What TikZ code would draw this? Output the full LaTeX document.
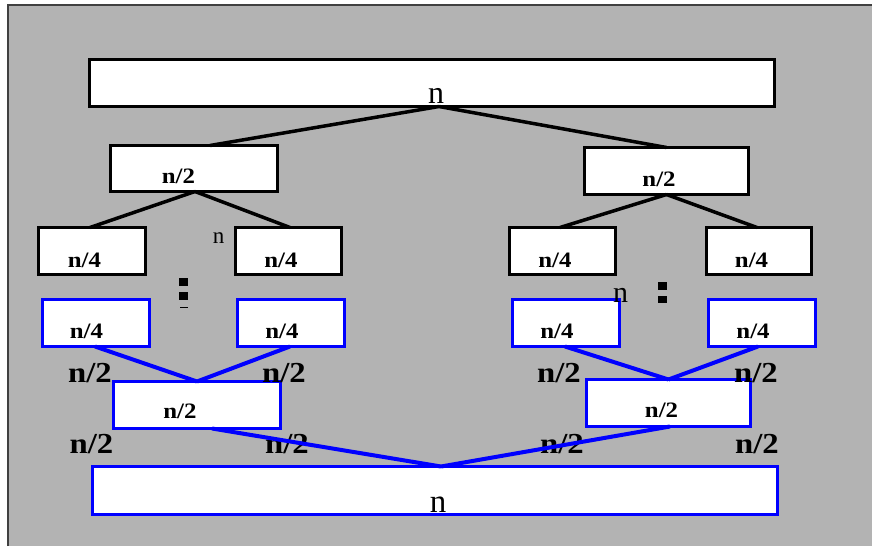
\documentclass[tikz,border=0pt]{standalone}
\usepackage{fontspec}
\setmainfont{Liberation Serif}
\newfontfamily\wideserif[FakeStretch=1.13]{Liberation Serif}
\definecolor{bggray}{HTML}{B3B3B3}
\definecolor{framegray}{HTML}{404040}
\newcommand\boxfont{\wideserif\bfseries\fontsize{22}{26}\selectfont}
\newcommand\labfont{\wideserif\bfseries\fontsize{29}{33}\selectfont}
\begin{document}
\begin{tikzpicture}[x=1pt,y=-1pt,
  kbox/.style={draw=black,line width=3pt,fill=white,inner sep=0pt,outer sep=0pt},
  bbox/.style={draw=blue,line width=3pt,fill=white,inner sep=0pt,outer sep=0pt},
  kline/.style={draw=black,line width=3.5pt},
  bline/.style={draw=blue,line width=4pt},
  btext/.style={anchor=base,inner sep=0pt,font=\boxfont},
  ltext/.style={anchor=base,inner sep=0pt,font=\labfont},
  ntext/.style={anchor=base,inner sep=0pt}]
\useasboundingbox (0,0) rectangle (872,546);
\fill[bggray] (8,5) rectangle (872,546);
\draw[framegray,line width=1.5pt] (8,546) -- (8,5) -- (872,5);

% boxes
\node[kbox,minimum width=685pt,minimum height=47pt] (top) at (432,83) {};
\node[kbox,minimum width=167pt,minimum height=46pt] (n2L) at (194,168.5) {};
\node[kbox,minimum width=164pt,minimum height=47pt] (n2R) at (666.5,171) {};
\node[kbox,minimum width=107pt,minimum height=47pt] (n4a) at (92,251) {};
\node[kbox,minimum width=106pt,minimum height=47pt] (n4b) at (288.5,251) {};
\node[kbox,minimum width=106pt,minimum height=47pt] (n4c) at (562.5,251) {};
\node[kbox,minimum width=105pt,minimum height=47pt] (n4d) at (759,251) {};
\node[bbox,minimum width=107pt,minimum height=47pt] (b4a) at (96,323) {};
\node[bbox,minimum width=107pt,minimum height=47pt] (b4b) at (291,323) {};
\node[bbox,minimum width=107pt,minimum height=47pt] (b4c) at (566,323) {};
\node[bbox,minimum width=107pt,minimum height=47pt] (b4d) at (762,323) {};
\node[bbox,minimum width=167pt,minimum height=47pt] (b2L) at (197,405) {};
\node[bbox,minimum width=164pt,minimum height=47pt] (b2R) at (668.5,403) {};
\node[bbox,minimum width=685pt,minimum height=48pt] (bot) at (435,490.5) {};

% outside labels
\node[ltext] (la1) at (90,382) {n/2};
\node[ltext] (la2) at (284,382) {n/2};
\node[ltext] (la3) at (559,382) {n/2};
\node[ltext] (la4) at (756,382) {n/2};
\node[ltext] (lb1) at (91.5,453) {n/2};
\node[ltext] (lb2) at (287,453) {n/2};
\node[ltext] (lb3) at (562,453) {n/2};
\node[ltext] (lb4) at (757,453) {n/2};

% black connectors
\draw[kline] ([xshift=7pt]top.south) -- ([xshift=16pt]n2L.north);
\draw[kline] ([xshift=7pt]top.south) -- (n2R.north);
\draw[kline] ([xshift=1pt]n2L.south) -- ([xshift=-2pt]n4a.north);
\draw[kline] ([xshift=1pt]n2L.south) -- ([xshift=1.5pt]n4b.north);
\draw[kline] (n2R.south) -- ([xshift=-2.5pt]n4c.north);
\draw[kline] (n2R.south) -- ([xshift=-2pt]n4d.north);
% blue connectors
\draw[bline] ([xshift=-1pt]b4a.south) -- (b2L.north);
\draw[bline] ([xshift=-1pt]b4b.south) -- (b2L.north);
\draw[bline] ([xshift=-1pt]b4c.south) -- (b2R.north);
\draw[bline] ([xshift=-4pt]b4d.south) -- (b2R.north);
\draw[bline] ([xshift=15pt]b2L.south) -- ([xshift=6pt]bot.north);
\draw[bline] ([xshift=1.5pt]b2R.south) -- ([xshift=6pt]bot.north);

% box texts
\node[ntext,font=\fontsize{32}{36}\selectfont] (tn) at (436,103) {n};
\node[btext] (t2L) at (178.5,183) {n/2};
\node[btext] (t2R) at (659,186) {n/2};
\node[btext] (t4a) at (84.5,267) {n/4};
\node[btext] (t4b) at (281,267) {n/4};
\node[btext] (t4c) at (555,267) {n/4};
\node[btext] (t4d) at (751.5,267) {n/4};
\node[btext] (u4a) at (86.5,338) {n/4};
\node[btext] (u4b) at (282,338) {n/4};
\node[btext] (u4c) at (557,338) {n/4};
\node[btext] (u4d) at (753,338) {n/4};
\node[btext] (u2L) at (180,418) {n/2};
\node[btext] (u2R) at (661.5,417) {n/2};
\node[ntext,font=\fontsize{33}{36}\selectfont] (bn) at (438,512) {n};

% small n labels
\node[ntext,font=\fontsize{23}{26}\selectfont] (sn1) at (218.5,243) {n};
\node[ntext,font=\fontsize{30}{34}\selectfont] (sn2) at (620.5,302) {n};

% dots
\fill[black] (179,278) rectangle (188,286);
\fill[black] (179,292) rectangle (188,300);
\fill[black] (180,306.5) rectangle (188,308);
\fill[black] (658,282) rectangle (667,290);
\fill[black] (658,296) rectangle (667,303);
\end{tikzpicture}
\end{document}
